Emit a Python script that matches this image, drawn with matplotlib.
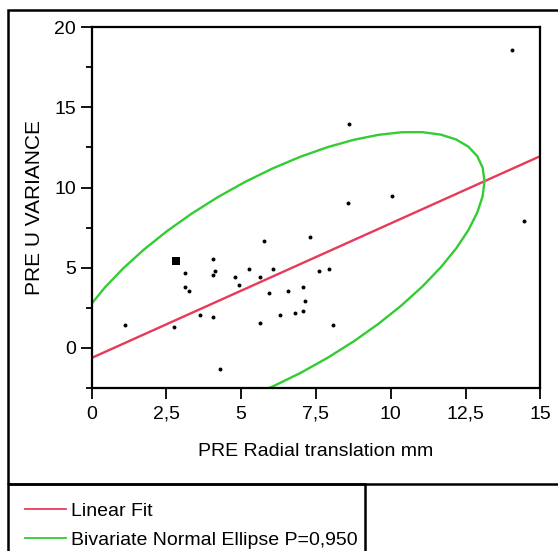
import numpy as np
import matplotlib
matplotlib.use("Agg")
import matplotlib.pyplot as plt
from matplotlib.patches import Rectangle
from matplotlib.lines import Line2D
from matplotlib.ticker import FuncFormatter, MultipleLocator

plt.rcParams['font.family'] = ['Liberation Sans', 'DejaVu Sans']

# Data
radial_translation = [1.12, 3.12, 3.12, 3.25, 2.75, 3.62, 4.06, 4.12, 4.06, 4.06,
                      4.31, 4.80, 4.94, 5.25, 5.75, 5.63, 6.06, 5.94, 5.63, 6.31,
                      6.56, 6.81, 7.06, 7.13, 7.06, 7.31, 7.62, 7.93, 8.07, 14.07,
                      8.62, 8.57, 10.06, 14.45]
u_variance = [1.44, 4.69, 3.81, 3.56, 1.31, 2.06, 5.56, 4.81, 4.56, 1.94,
              -1.31, 4.44, 3.94, 4.94, 6.69, 4.44, 4.94, 3.44, 1.56, 2.06,
              3.56, 2.19, 3.81, 2.94, 2.31, 6.94, 4.81, 4.94, 1.44, 18.56,
              13.94, 9.06, 9.46, 7.94]
# highlighted (square) point
sel_x = [2.81]
sel_y = [5.44]

# linear fit (value at x = 0 and x = 15)
fit_x = [0, 15]
fit_y = [-0.64, 11.96]

# bivariate normal ellipse parameters
ell_mean = [6.06, 4.39]
ell_sd = [2.89, 3.71]
ell_corr = 0.662
ellipse_p = 0.95

x_ticks = [0, 2.5, 5, 7.5, 10, 12.5, 15]
legend_labels = ['Linear Fit', 'Bivariate Normal Ellipse P=0,950']

RED = '#e8395a'
GREEN = '#33cc33'

W, H = 558, 551
fig = plt.figure(figsize=(W / 100, H / 100), dpi=100)

ax_l, ax_r, ax_t, ax_b = 91.5, 540.3, 27.3, 387.8
ax = fig.add_axes([ax_l / W, 1 - ax_b / H, (ax_r - ax_l) / W, (ax_b - ax_t) / H])

ax.plot(fit_x, fit_y, color=RED, lw=1.7, zorder=2)

S = np.array([[ell_sd[0] ** 2, ell_corr * ell_sd[0] * ell_sd[1]],
              [ell_corr * ell_sd[0] * ell_sd[1], ell_sd[1] ** 2]])
L = np.linalg.cholesky(S)
r = np.sqrt(-2 * np.log(1 - ellipse_p))
t = np.linspace(0, 2 * np.pi, 49)
pts = np.array(ell_mean)[:, None] + r * L @ np.vstack([np.cos(t), np.sin(t)])
ax.plot(pts[0], pts[1], color=GREEN, lw=1.7, zorder=2)

ax.scatter(radial_translation, u_variance, s=8, color='black', zorder=3, linewidths=0)
ax.scatter(sel_x, sel_y, s=26, marker='s', color='black', zorder=3, linewidths=0)

ax.set_xlim(0, 15)
ax.set_ylim(-2.5, 20)
ax.set_xticks(x_ticks)
ax.yaxis.set_major_locator(MultipleLocator(5))
ax.yaxis.set_minor_locator(MultipleLocator(2.5))
fmt = FuncFormatter(lambda v, p: ('%g' % v).replace('.', ','))
ax.xaxis.set_major_formatter(fmt)
ax.yaxis.set_major_formatter(fmt)
ax.tick_params(axis='x', which='major', direction='out', length=8, width=1.3,
               labelsize=14, pad=5)
ax.tick_params(axis='y', which='major', direction='out', length=7.7, width=1.3,
               labelsize=14, pad=3.5)
ax.tick_params(axis='y', which='minor', direction='out', length=4, width=1.3)
for s in ax.spines.values():
    s.set_linewidth(1.6)

ax.set_xlabel('PRE Radial translation mm', fontsize=14, va='center')
ax.xaxis.set_label_coords(0.5, (ax_b - 452) / (ax_b - ax_t))
ax.set_ylabel('PRE U VARIANCE', fontsize=15, va='center')
ax.yaxis.set_label_coords((34.5 - ax_l) / (ax_r - ax_l), 0.5)

# frames
fig.patches.append(Rectangle((8 / W, 1 - 484 / H), (W + 5 - 8) / W, (484 - 10) / H,
                             transform=fig.transFigure, fill=False, lw=1.8,
                             edgecolor='black'))
fig.patches.append(Rectangle((8 / W, 1 - 560 / H), (365 - 8) / W, (560 - 484) / H,
                             transform=fig.transFigure, fill=False, lw=1.8,
                             edgecolor='black'))

handles = [Line2D([], [], color=RED, lw=1.3),
           Line2D([], [], color=GREEN, lw=1.3)]
fig.legend(handles, legend_labels,
           loc='upper left', bbox_to_anchor=(25 / W, 1 - 502 / H), frameon=False,
           fontsize=14, handlelength=2.1, handletextpad=0.28, labelspacing=0.62,
           borderpad=0, borderaxespad=0)

fig.savefig('out.png', dpi=100)
